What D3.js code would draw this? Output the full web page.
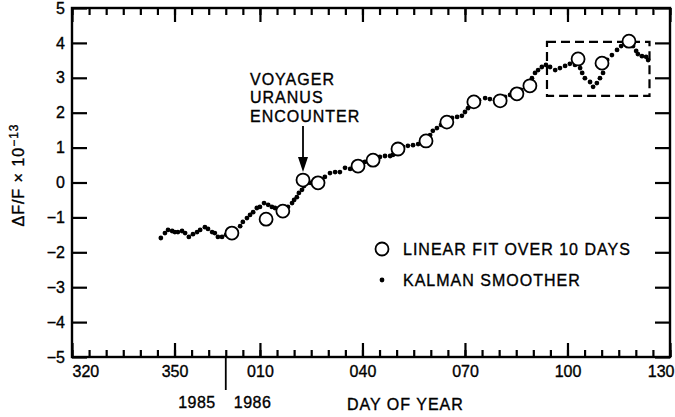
<!DOCTYPE html>
<html>
<head>
<meta charset="utf-8">
<script src="https://cdn.jsdelivr.net/npm/d3@7"></script>
<style>
  body { margin: 0; background: #fff; }
  svg { display: block; }
  text { font-family: "Liberation Sans", Arial, Helvetica, sans-serif; fill: #000; stroke: #000; stroke-width: 0.35px; }
</style>
</head>
<body>
<div id="chart"></div>
<script>
// day axis is continuous: 1985 days as is, 1986 days = 365 + day of year
var kalman = [
  [346.0,-1.59],[347.2,-1.45],[348.1,-1.36],[349.3,-1.39],[350.1,-1.42],[351.0,-1.42],[352.2,-1.39],
  [353.1,-1.45],[354.2,-1.56],[355.4,-1.48],[356.6,-1.42],[357.5,-1.36],[358.9,-1.28],[359.8,-1.33],
  [361.0,-1.42],[361.8,-1.45],[362.7,-1.56],[363.9,-1.56],[365.1,-1.50],
  [368.0,-1.39],[369.2,-1.25],[370.0,-1.13],[371.2,-1.02],[372.1,-0.93],[373.0,-0.85],[374.1,-0.73],
  [375.0,-0.70],[376.2,-0.59],[377.4,-0.64],[378.5,-0.70],[379.4,-0.73],[380.3,-0.76],
  [383.2,-0.70],[384.4,-0.59],[385.0,-0.50],[385.8,-0.42],[386.4,-0.30],[387.3,-0.21],[387.9,-0.10],
  [388.8,-0.01],[389.7,-0.01],[390.8,-0.04],
  [394.0,0.16],[395.5,0.27],[397.0,0.30],[398.4,0.30],[399.9,0.42],[401.4,0.39],[402.8,0.44],
  [405.7,0.59],[406.9,0.62],[410.1,0.73],[411.6,0.76],[413.1,0.76],[413.9,0.79],
  [416.9,1.02],[418.3,1.05],[419.8,1.07],[421.3,1.10],[422.4,1.16],[424.8,1.36],[425.6,1.48],
  [426.8,1.56],[428.0,1.65],[431.2,1.85],[432.7,1.88],[434.1,1.91],[435.0,2.02],[435.9,2.13],
  [439.1,2.36],[440.9,2.42],[442.3,2.39],[443.8,2.36],[446.7,2.45],[448.2,2.51],[451.4,2.65],
  [452.9,2.71],[454.6,2.99],[455.5,3.14],[456.4,3.22],[457.5,3.31],[458.7,3.37],[459.9,3.31],
  [461.4,3.22],[462.8,3.28],[464.3,3.34],[465.7,3.40],[467.2,3.37],[468.7,3.28],[469.3,3.14],
  [470.1,2.99],[471.6,2.88],[472.5,2.74],[473.6,2.85],[474.5,2.99],[475.4,3.14],[476.6,3.51],
  [478.0,3.65],[479.5,3.80],[480.7,3.91],[481.8,3.99],[484.2,3.91],[485.1,3.77],[485.6,3.68],
  [486.8,3.62],[488.0,3.60],[488.6,3.51]
];

var linearFit = [
  [366.8,-1.45],[376.8,-1.05],[381.7,-0.82],[387.6,0.07],[392.0,-0.01],[403.7,0.47],
  [408.1,0.64],[415.4,0.96],[423.6,1.19],[429.7,1.73],[437.6,2.31],[445.3,2.34],
  [450.2,2.54],[454.0,2.77],[468.1,3.54],[475.1,3.42],[483.0,4.05]
];

var xMajorTicks = [320, 350, 375, 405, 435, 465, 495];
var xMajorLabels = ['320', '350', '010', '040', '070', '100', '130'];
var xMinorTicks = d3.range(320, 496, 5);
var yTicks = d3.range(-5, 6);
var yearBreak = 365;
var encounterDay = 387.6;
var zoomBox = { x0: 459, x1: 489, y0: 2.48, y1: 4.03 };

var width = 675, height = 417;
var svg = d3.select('#chart').append('svg')
    .attr('width', width)
    .attr('height', height);

var x = d3.scaleLinear().domain([320, 495]).range([72, 670]);
var y = d3.scaleLinear().domain([-5, 5]).range([357, 8]);

function styleAxis(g) {
    g.select('.domain').remove();
    g.selectAll('.tick line').attr('stroke', '#000').attr('stroke-width', 2.2);
    g.selectAll('text').attr('font-size', 16).attr('font-family', null).attr('fill', '#000');
}

// bottom axis
svg.append('g')
    .attr('transform', 'translate(0,' + y(-5) + ')')
    .call(d3.axisBottom(x).tickValues(xMinorTicks).tickSize(-7).tickFormat(''))
    .call(styleAxis);
var bottomMajor = svg.append('g')
    .attr('transform', 'translate(0,' + y(-5) + ')')
    .call(d3.axisBottom(x).tickValues(xMajorTicks).tickSize(-14).tickPadding(9)
        .tickFormat(function (d, i) { return xMajorLabels[i]; }))
    .call(styleAxis);
bottomMajor.selectAll('text').filter(function (d) { return d === 320; }).attr('text-anchor', 'start');
bottomMajor.selectAll('text').filter(function (d) { return d === 495; })
    .attr('text-anchor', 'end').attr('dx', 4);

// top axis
svg.append('g')
    .attr('transform', 'translate(0,' + y(5) + ')')
    .call(d3.axisTop(x).tickValues(xMinorTicks).tickSize(-7).tickFormat(''))
    .call(styleAxis);
svg.append('g')
    .attr('transform', 'translate(0,' + y(5) + ')')
    .call(d3.axisTop(x).tickValues(xMajorTicks).tickSize(-14).tickFormat(''))
    .call(styleAxis);

// left and right axes
svg.append('g')
    .attr('transform', 'translate(' + x(320) + ',0)')
    .call(d3.axisLeft(y).tickValues(yTicks).tickSize(-15).tickPadding(7)
        .tickFormat(function (d) { return d < 0 ? '\u2212' + (-d) : d; }))
    .call(styleAxis);
svg.append('g')
    .attr('transform', 'translate(' + x(495) + ',0)')
    .call(d3.axisRight(y).tickValues(yTicks).tickSize(-15).tickFormat(''))
    .call(styleAxis);

// frame
svg.append('rect')
    .attr('x', x(320)).attr('y', y(5))
    .attr('width', x(495) - x(320)).attr('height', y(-5) - y(5))
    .attr('fill', 'none').attr('stroke', '#000').attr('stroke-width', 2.4);

// year break
svg.append('line')
    .attr('x1', x(yearBreak)).attr('x2', x(yearBreak))
    .attr('y1', y(-5)).attr('y2', y(-5) + 33)
    .attr('stroke', '#000').attr('stroke-width', 1.8);
svg.append('text').attr('x', x(yearBreak) - 10).attr('y', 408)
    .attr('text-anchor', 'end').attr('font-size', 16).attr('letter-spacing', 0.5).text('1985');
svg.append('text').attr('x', x(yearBreak) + 8).attr('y', 408)
    .attr('font-size', 16).attr('letter-spacing', 0.5).text('1986');

svg.append('text').attr('x', 347).attr('y', 410)
    .attr('font-size', 16).attr('letter-spacing', 1).text('DAY OF YEAR');

// y title
var yTitle = svg.append('text')
    .attr('transform', 'translate(24,175) rotate(-90)')
    .attr('text-anchor', 'middle')
    .attr('font-size', 16).attr('letter-spacing', 1);
yTitle.append('tspan').text('\u0394F/F \u00d7 10');
yTitle.append('tspan').attr('dy', -6).attr('font-size', 12).text('\u221213');

// dashed box
svg.append('rect')
    .attr('x', x(zoomBox.x0)).attr('y', y(zoomBox.y1))
    .attr('width', x(zoomBox.x1) - x(zoomBox.x0))
    .attr('height', y(zoomBox.y0) - y(zoomBox.y1))
    .attr('fill', 'none').attr('stroke', '#000').attr('stroke-width', 2.2)
    .attr('stroke-dasharray', '9,5');

// Kalman smoother dots
svg.append('g').selectAll('circle')
    .data(kalman)
    .join('circle')
    .attr('cx', function (d) { return x(d[0]); })
    .attr('cy', function (d) { return y(d[1]); })
    .attr('r', 2.4)
    .attr('fill', '#000');

// linear fit circles
svg.append('g').selectAll('circle')
    .data(linearFit)
    .join('circle')
    .attr('cx', function (d) { return x(d[0]); })
    .attr('cy', function (d) { return y(d[1]); })
    .attr('r', 6.5)
    .attr('fill', '#fff')
    .attr('stroke', '#000')
    .attr('stroke-width', 1.8);

// encounter annotation
var ax = x(encounterDay);
svg.append('line')
    .attr('x1', ax).attr('x2', ax).attr('y1', 126).attr('y2', 160)
    .attr('stroke', '#000').attr('stroke-width', 1.8);
svg.append('path')
    .attr('d', 'M' + (ax - 5) + ',157L' + (ax + 5) + ',157L' + ax + ',172Z')
    .attr('fill', '#000');
var note = svg.append('text').attr('x', 250).attr('font-size', 16).attr('letter-spacing', 1);
note.append('tspan').attr('x', 250).attr('y', 85).text('VOYAGER');
note.append('tspan').attr('x', 250).attr('y', 103).text('URANUS');
note.append('tspan').attr('x', 250).attr('y', 122).text('ENCOUNTER');

// legend
svg.append('circle').attr('cx', 382).attr('cy', 249).attr('r', 6.5)
    .attr('fill', '#fff').attr('stroke', '#000').attr('stroke-width', 1.8);
svg.append('text').attr('x', 403).attr('y', 255)
    .attr('font-size', 16).attr('letter-spacing', 1).text('LINEAR FIT OVER 10 DAYS');
svg.append('circle').attr('cx', 382).attr('cy', 280).attr('r', 2.4).attr('fill', '#000');
svg.append('text').attr('x', 403).attr('y', 286)
    .attr('font-size', 16).attr('letter-spacing', 1).text('KALMAN SMOOTHER');
</script>
</body>
</html>
